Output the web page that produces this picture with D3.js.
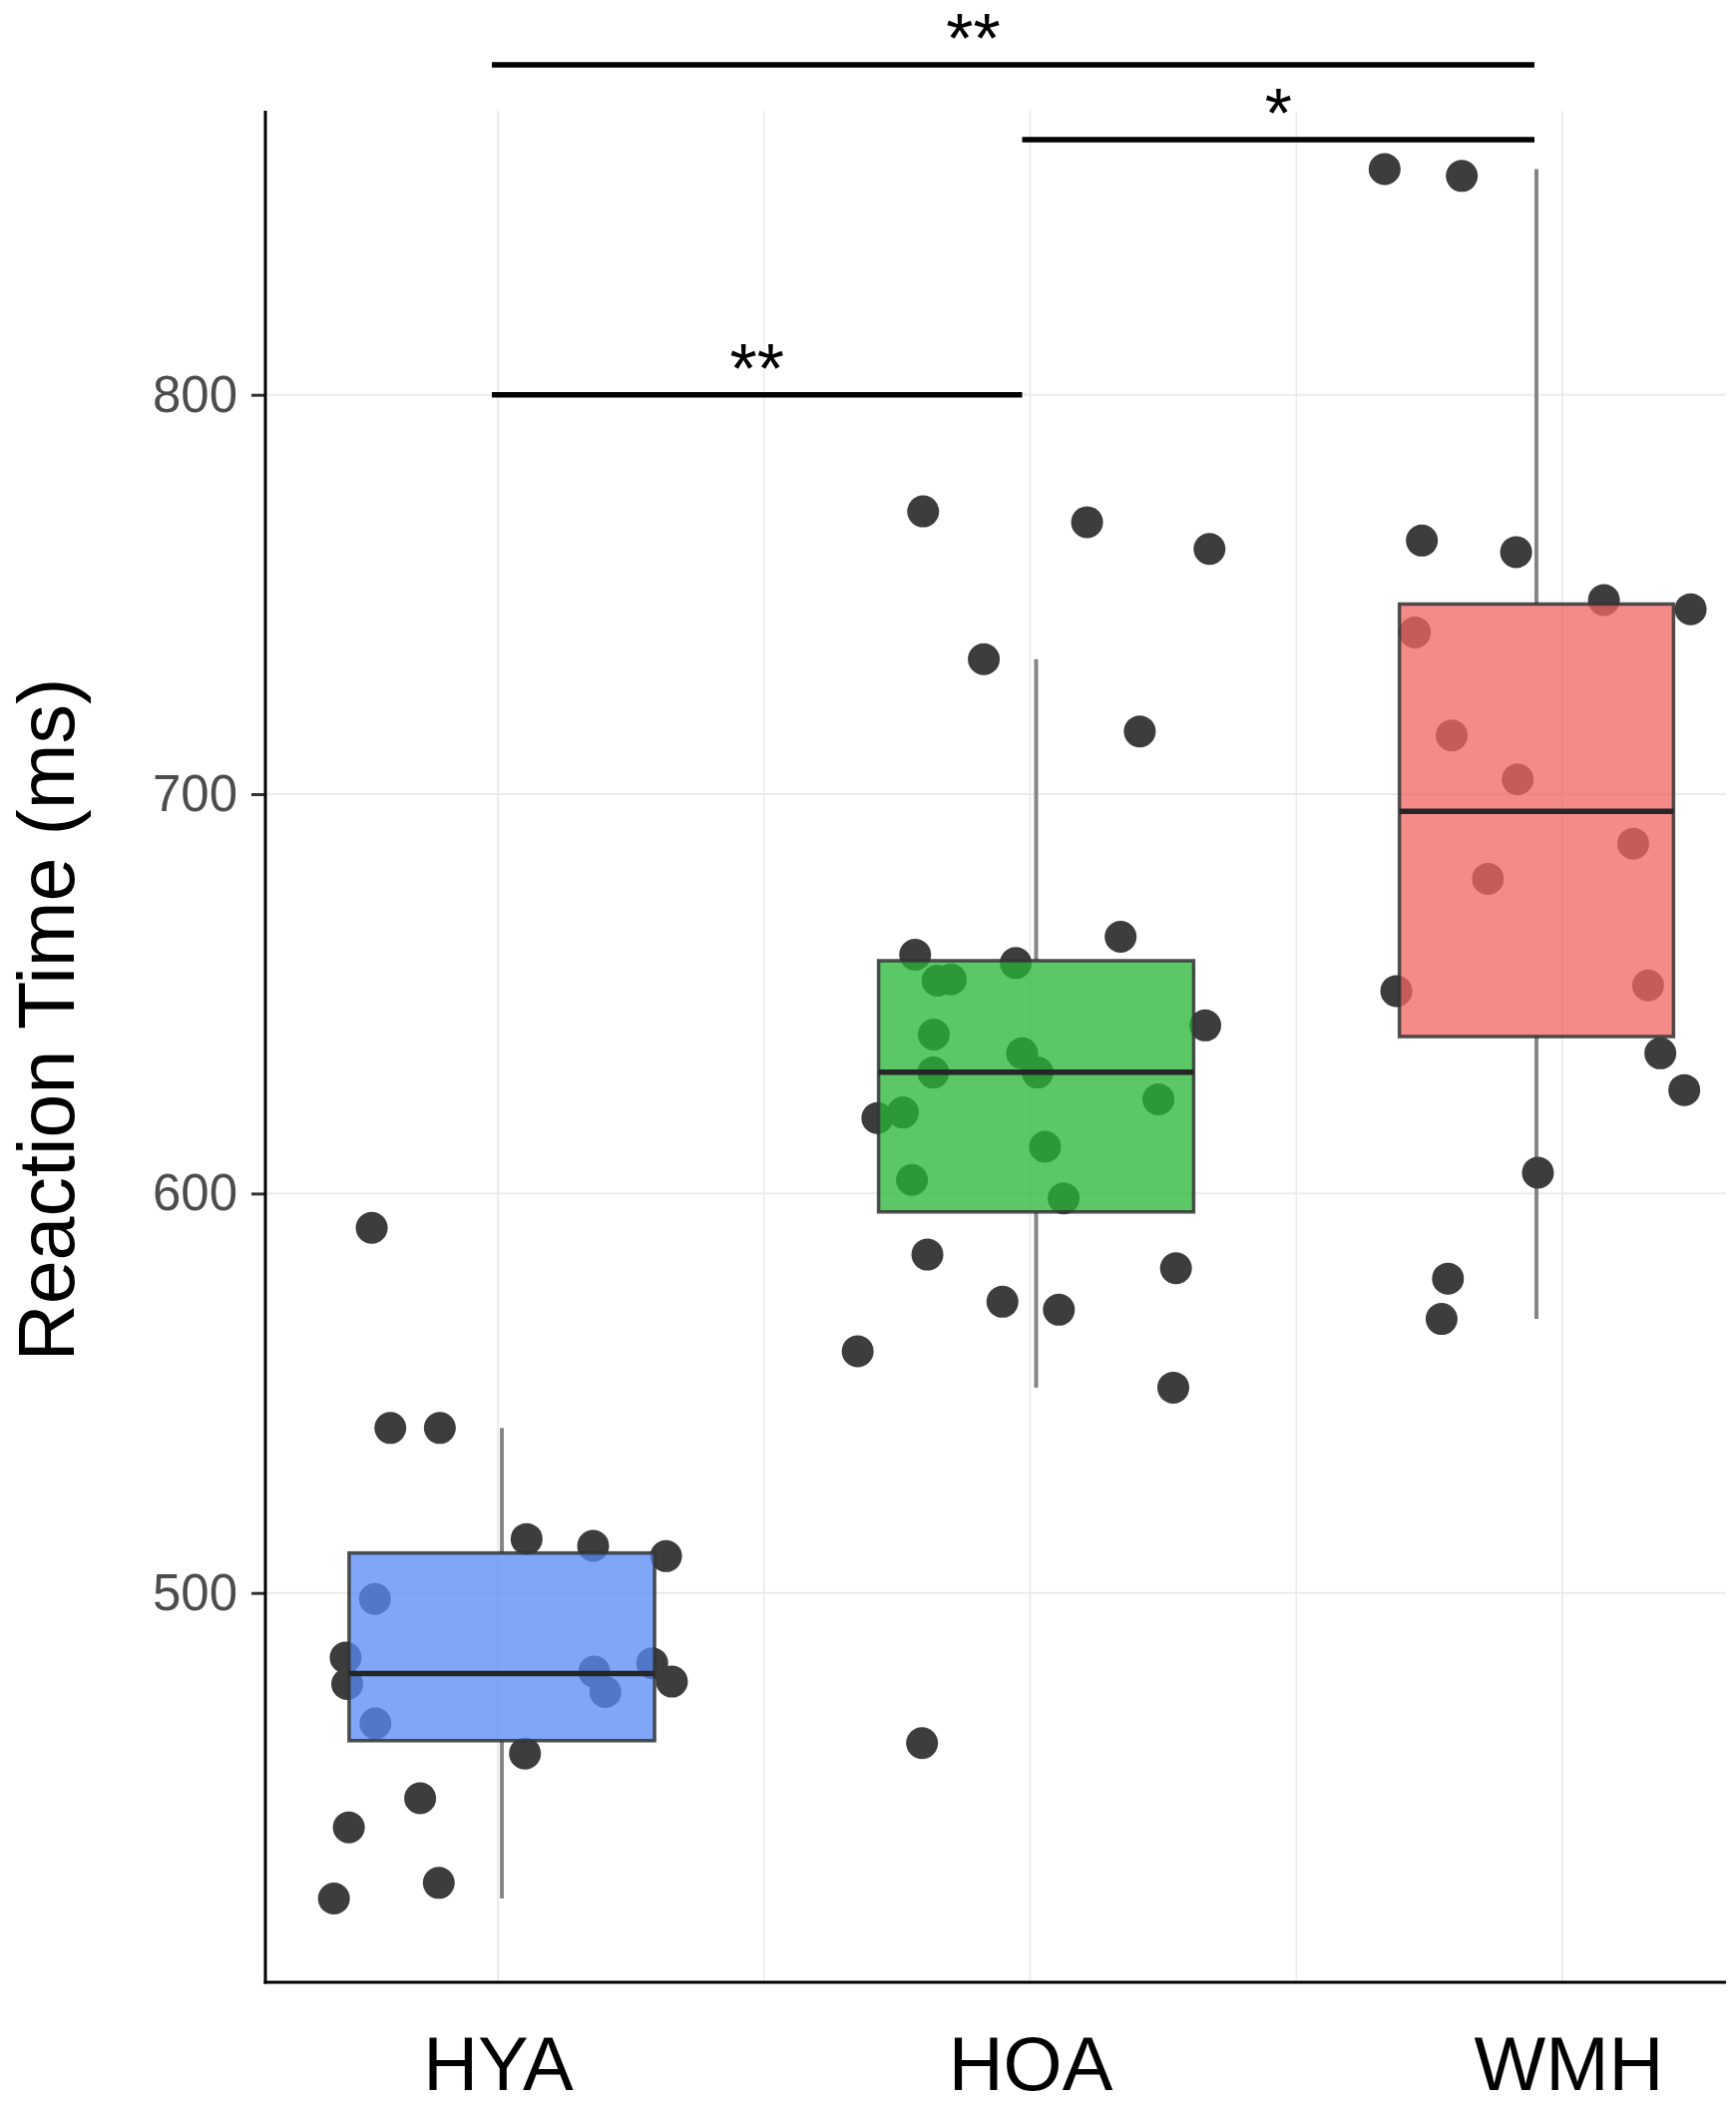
<!DOCTYPE html>
<html lang="en">
<head>
  <meta charset="UTF-8">
  <title>Reaction time by group</title>
  <script src="https://cdn.jsdelivr.net/npm/d3@7"></script>
  <style>
    body { margin: 0; background: #fff; }
    svg { display: block; font-family: "Liberation Sans", Arial, sans-serif; }
  </style>
</head>
<body>
  <div id="chart"></div>

  <script>
    // ---- data ----
    const groups = ['HYA', 'HOA', 'WMH'];

    const hyaRT = [591.4, 541.3, 541.3, 513.5, 511.8, 509.2, 498.5, 483.8, 477.2, 480.3, 482.4,
      475.2, 477.8, 467.3, 459.8, 448.6, 441.3, 427.4, 423.5];
    const hyaJitter = [-0.237, -0.202, -0.109, 0.054, 0.179, 0.316, -0.231, -0.286, -0.283, 0.181, 0.290,
      0.202, 0.327, -0.230, 0.051, -0.146, -0.280, -0.111, -0.308];

    const hoaRT = [770.8, 768.1, 761.4, 733.8, 715.7, 664.3, 659.8, 657.7, 653.3, 653.6, 642.1, 639.8,
      635.1, 630.3, 630.3, 618.9, 620.3, 623.6, 611.7, 603.4, 598.8, 584.7, 581.3, 572.9, 570.9,
      560.5, 551.4, 462.4];
    const hoaJitter = [-0.201, 0.107, 0.337, -0.087, 0.206, 0.170, -0.216, -0.027, -0.174, -0.149, 0.329, -0.181,
      -0.015, -0.182, 0.014, -0.287, -0.239, 0.241, 0.028, -0.222, 0.063, -0.193, 0.274, -0.052, 0.054,
      -0.324, 0.269, -0.203];

    const wmhRT = [856.5, 854.8, 763.5, 760.6, 748.6, 746.3, 740.5, 714.7, 703.7, 687.6, 678.8, 650.7,
      652.1, 635.1, 625.9, 605.2, 578.7, 568.6];
    const wmhJitter = [-0.334, -0.189, -0.264, -0.087, 0.078, 0.241, -0.277, -0.208, -0.084, 0.133, -0.140, -0.312,
      0.161, 0.184, 0.229, -0.046, -0.215, -0.227];

    // box summaries (HYA, HOA, WMH)
    const whiskerLow = [423.5, 551.4, 568.6];
    const q1 = [463.0, 595.4, 639.3];
    const medians = [479.8, 630.4, 695.7];
    const q3 = [510.0, 658.3, 747.6];
    const whiskerHigh = [541.3, 733.8, 856.5];

    const yTicks = [500, 600, 700, 800];

    // significance brackets
    const compFrom = ['HYA', 'HOA', 'HYA'];
    const compTo = ['HOA', 'WMH', 'WMH'];
    const compY = [800, 863.9, 882.6];
    const compLabel = ['**', '*', '**'];

    // ---- layout ----
    const width = 1740, height = 2110;
    const panel = {left: 266, right: 1730, top: 111, bottom: 1987};
    const boxColors = ['#588af6', '#29b537', '#f16763'];
    const boxWidth = [0.574, 0.592, 0.515];   // in category steps
    const boxNudge = [4, 6, -26];              // px, boxes sit a bit off the grid
    const lineEnd = {HYA: -6, HOA: -8, WMH: -28};
    const labelNudge = [0, 0, -40];
    const tickNudge = [0, 0, 6];

    const svg = d3.select('#chart')
      .append('svg')
        .attr('width', width)
        .attr('height', height);

    const x = d3.scalePoint()
      .domain(groups)
      .range([499, 1566]);
    const step = x.step();

    const y = d3.scaleLinear()
      .domain([500, 800])
      .range([1596.7, 395.7]);

    // grid
    const grid = svg.append('g').attr('stroke', '#ebebeb').attr('stroke-width', 2);
    grid.selectAll('line.h')
      .data(yTicks)
      .join('line')
        .attr('class', 'h')
        .attr('x1', panel.left).attr('x2', panel.right)
        .attr('y1', d => y(d)).attr('y2', d => y(d));
    grid.selectAll('line.v')
      .data(groups)
      .join('line')
        .attr('class', 'v')
        .attr('x1', d => x(d)).attr('x2', d => x(d))
        .attr('y1', panel.top).attr('y2', panel.bottom);
    grid.selectAll('line.vm')
      .data(groups.slice(0, -1))
      .join('line')
        .attr('class', 'vm')
        .attr('stroke-width', 1.5)
        .attr('x1', d => x(d) + step / 2).attr('x2', d => x(d) + step / 2)
        .attr('y1', panel.top).attr('y2', panel.bottom);

    const boxes = groups.map((g, i) => ({
      g, i,
      lo: whiskerLow[i], q1: q1[i], med: medians[i], q3: q3[i], hi: whiskerHigh[i],
      cx: x(g) + boxNudge[i],
      w: boxWidth[i] * step
    }));

    // whiskers
    svg.append('g')
      .selectAll('g')
      .data(boxes)
      .join('g')
      .each(function(d) {
        const s = d3.select(this);
        s.append('line')
          .attr('x1', d.cx).attr('x2', d.cx)
          .attr('y1', y(d.hi)).attr('y2', y(d.q3));
        s.append('line')
          .attr('x1', d.cx).attr('x2', d.cx)
          .attr('y1', y(d.q1)).attr('y2', y(d.lo));
      })
      .attr('stroke', '#858585')
      .attr('stroke-width', 4);

    // jittered points
    const pts = [];
    [[hyaRT, hyaJitter], [hoaRT, hoaJitter], [wmhRT, wmhJitter]].forEach(([vals, jit], i) => {
      vals.forEach((v, k) => pts.push({g: groups[i], v, j: jit[k]}));
    });

    svg.append('g')
      .selectAll('circle')
      .data(pts)
      .join('circle')
        .attr('cx', d => x(d.g) + d.j * step)
        .attr('cy', d => y(d.v))
        .attr('r', 16)
        .attr('fill', '#3d3d3d');

    // boxes on top, semi-transparent
    const bx = svg.append('g')
      .selectAll('g')
      .data(boxes)
      .join('g');
    bx.append('rect')
      .attr('x', d => d.cx - d.w / 2)
      .attr('y', d => y(d.q3))
      .attr('width', d => d.w)
      .attr('height', d => y(d.q1) - y(d.q3))
      .attr('fill', d => boxColors[d.i])
      .attr('fill-opacity', 0.76)
      .attr('stroke', '#333')
      .attr('stroke-opacity', 0.85)
      .attr('stroke-width', 3.5);
    bx.append('line')
      .attr('x1', d => d.cx - d.w / 2)
      .attr('x2', d => d.cx + d.w / 2)
      .attr('y1', d => y(d.med))
      .attr('y2', d => y(d.med))
      .attr('stroke', '#262626')
      .attr('stroke-width', 5.5);

    // y axis
    const yAxis = svg.append('g')
      .attr('transform', `translate(${panel.left},0)`)
      .call(d3.axisLeft(y).tickValues(yTicks).tickSize(14).tickPadding(14));
    yAxis.select('.domain').remove();
    yAxis.selectAll('.tick line').attr('stroke', '#333').attr('stroke-width', 3);
    yAxis.selectAll('.tick text')
      .attr('fill', '#4d4d4d')
      .style('font-size', '51px')
      .style('font-family', '"Liberation Sans", Arial, sans-serif');

    // x axis labels
    const xAxis = svg.append('g')
      .attr('transform', `translate(0,${panel.bottom})`)
      .call(d3.axisBottom(x).tickSize(0).tickPadding(54));
    xAxis.select('.domain').remove();
    xAxis.selectAll('.tick text')
      .attr('fill', '#000')
      .attr('dx', (d, i) => tickNudge[i])
      .style('font-size', '76px')
      .style('font-family', '"Liberation Sans", Arial, sans-serif');

    // axis lines
    svg.append('line')
      .attr('x1', panel.left).attr('x2', panel.left)
      .attr('y1', panel.top).attr('y2', panel.bottom + 1.5)
      .attr('stroke', '#000').attr('stroke-width', 3);
    svg.append('line')
      .attr('x1', panel.left - 1.5).attr('x2', panel.right)
      .attr('y1', panel.bottom).attr('y2', panel.bottom)
      .attr('stroke', '#000').attr('stroke-width', 3);

    // y title
    svg.append('text')
      .attr('transform', `translate(74,1022) rotate(-90)`)
      .attr('text-anchor', 'middle')
      .style('font-size', '79px')
      .attr('fill', '#000')
      .text('Reaction Time (ms)');

    // significance brackets
    const sig = svg.append('g');
    compY.forEach((v, i) => {
      const x1 = x(compFrom[i]) + lineEnd[compFrom[i]];
      const x2 = x(compTo[i]) + lineEnd[compTo[i]];
      sig.append('line')
        .attr('x1', x1).attr('x2', x2)
        .attr('y1', y(v)).attr('y2', y(v))
        .attr('stroke', '#000')
        .attr('stroke-width', 5.5);
      sig.append('text')
        .attr('x', (x1 + x2) / 2 + labelNudge[i])
        .attr('y', y(v) - 2)
        .attr('text-anchor', 'middle')
        .style('font-size', '70px')
        .attr('fill', '#000')
        .text(compLabel[i]);
    });
  </script>
</body>
</html>
